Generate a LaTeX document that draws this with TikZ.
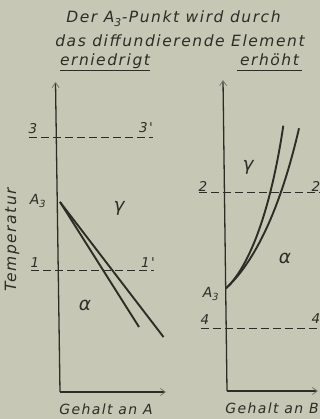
\documentclass[tikz,border=0pt]{standalone}
\usepackage{fontspec}
\newfontfamily\din[LetterSpace=10]{DejaVu Sans}
\usetikzlibrary{arrows.meta}
\definecolor{bg}{RGB}{199,199,182}
\definecolor{ink}{RGB}{45,45,38}
\definecolor{faint}{RGB}{120,120,108}
\begin{document}
\begin{tikzpicture}[x=1pt,y=-1pt,
  txt/.style={text=ink,font=\din\itshape\fontsize{15.5}{17}\selectfont,inner sep=0pt},
  small/.style={txt,font=\din\itshape\fontsize{14}{16}\selectfont},
  digit/.style={txt,font=\din\itshape\fontsize{13.5}{15}\selectfont},
  alab/.style={txt,font=\din\itshape\fontsize{14}{16}\selectfont},
  greek/.style={txt,font=\din\itshape\fontsize{18.5}{21}\selectfont},
  axis/.style={draw=ink,line width=1.3pt},
  tip/.style={-{Straight Barb[length=5pt,width=7pt,line width=0.8pt,color=faint]}},
  dline/.style={draw=ink,line width=1.3pt,dash pattern=on 8pt off 4pt},
  curve/.style={draw=ink,line width=1.9pt}]
\useasboundingbox[fill=bg] (0,0) rectangle (320,419);
% title
\node[txt,anchor=base] (t1) at (173.5,23) {Der A\textsubscript{3}-Punkt wird durch};
\node[txt,anchor=base] (t2) at (180,46.5) {das diffundierende Element};
\node[txt,anchor=base] (t3) at (105,65.5) {erniedrigt};
\node[txt,anchor=base] (t4) at (269.5,65.5) {erhöht};
\coordinate (u1a) at (60,70.7); \coordinate (u1b) at (150,70.7);
\coordinate (u2a) at (237,70.7); \coordinate (u2b) at (302,70.7);
\draw[ink,line width=1.2pt] (u1a) -- (u1b);
\draw[ink,line width=1.2pt] (u2a) -- (u2b);
% left diagram
\coordinate (LT) at (55.5,82);
\coordinate (LB) at (60,392);
\coordinate (LR) at (166,392);
\draw[axis,tip] (LB) -- (LT);
\draw[axis,tip] (LB) -- (LR);
\coordinate (d3a) at (29,137.3); \coordinate (d3b) at (153,137.3);
\coordinate (d1a) at (31,270.7); \coordinate (d1b) at (154,270.7);
\draw[dline] (d3a) -- (d3b);
\draw[dline] (d1a) -- (d1b);
\coordinate (LA) at (60,202);
\coordinate (LE1) at (139,327);
\coordinate (LE2) at (163.5,337);
\draw[curve] (LA) -- (LE1);
\draw[curve] (LA) -- (LE2);
\node[digit] (l3) at (33,129) {3};
\node[digit] (l3p) at (146,128) {3'};
\node[alab] (lA3) at (38,201) {A\textsubscript{3}};
\node[greek] (lg) at (119,208) {γ};
\node[digit] (l1) at (35,263) {1};
\node[digit] (l1p) at (148,263) {1'};
\node[greek] (la) at (85,305) {α};
\node[txt,rotate=90] (temp) at (12,239.5) {Temperatur};
\node[small] (gA) at (106,409) {Gehalt an A};
% right diagram
\coordinate (RT) at (223,80);
\coordinate (RB) at (227,391);
\coordinate (RR) at (318,391);
\draw[axis,tip] (RB) -- (RT);
\draw[axis,tip] (RB) -- (RR);
\coordinate (d2a) at (199,192.7); \coordinate (d2b) at (320,192.7);
\coordinate (d4a) at (201,328.3); \coordinate (d4b) at (320,328.3);
\draw[dline] (d2a) -- (d2b);
\draw[dline] (d4a) -- (d4b);
\coordinate (RS) at (226,288.3);
\coordinate (RE1) at (283.3,125.7);
\coordinate (RE2) at (299,128.3);
\draw[curve] (RS) .. controls (248,268) and (270,215) .. (RE1);
\draw[curve] (RS) .. controls (246,270) and (276,228) .. (RE2);
\node[digit] (r2) at (203,186) {2};
\node[digit] (r2p) at (316,186) {2};
\node[greek] (rg) at (248,167) {γ};
\node[greek] (ra) at (285,258) {α};
\node[alab] (rA3) at (211,294) {A\textsubscript{3}};
\node[digit] (r4) at (205,320) {4};
\node[digit] (r4p) at (316,319) {4};
\node[small] (gB) at (272,408) {Gehalt an B};
\end{tikzpicture}
\end{document}
